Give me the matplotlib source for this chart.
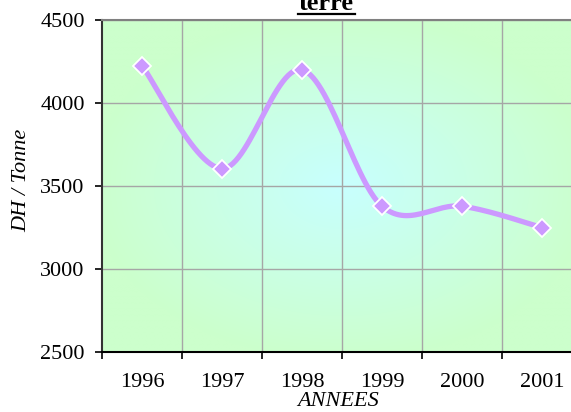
import numpy as np
import matplotlib
matplotlib.use("Agg")
import matplotlib.pyplot as plt
from matplotlib.lines import Line2D

# data
years = ["1996", "1997", "1998", "1999", "2000", "2001"]
prix = [4225, 3605, 4200, 3378, 3378, 3250]

y_ticks = [2500, 3000, 3500, 4000, 4500]


def smooth(xs, ys, n=30):
    # Catmull-Rom curve through the points (like Excel's smoothed line)
    xs = np.asarray(xs, float)
    ys = np.asarray(ys, float)
    px = np.concatenate([[xs[0]], xs, [xs[-1]]])
    py = np.concatenate([[ys[0]], ys, [ys[-1]]])
    outx, outy = [], []
    for i in range(1, len(px) - 2):
        t = np.linspace(0, 1, n)
        for p, out in ((px, outx), (py, outy)):
            p0, p1, p2, p3 = p[i - 1], p[i], p[i + 1], p[i + 2]
            c1 = p1 + (p2 - p0) / 6
            c2 = p2 - (p3 - p1) / 6
            out.extend((1 - t) ** 3 * p1 + 3 * (1 - t) ** 2 * t * c1
                       + 3 * (1 - t) * t ** 2 * c2 + t ** 3 * p2)
    return outx, outy


plt.rcParams['font.family'] = ['Liberation Serif', 'DejaVu Serif']

W, H = 571, 412
fig = plt.figure(figsize=(W / 100, H / 100), dpi=100)
fig.patch.set_facecolor("white")

# plot area runs past the right edge of the picture
left, right, top, bottom = 102, 582, 20, 352
ax = fig.add_axes([left / W, 1 - bottom / H, (right - left) / W, (bottom - top) / H])

x = np.arange(len(years))
ax.set_xlim(-0.5, len(years) - 0.5)
ax.set_ylim(2500, 4500)

# radial gradient background
gx, gy = np.meshgrid(np.linspace(-1, 1, 300), np.linspace(-1, 1, 300))
r = np.clip(np.sqrt(gx ** 2 + gy ** 2) / 1.05, 0, 1)
c_center = np.array([0xC8, 0xFF, 0xFF]) / 255
c_edge = np.array([0xCC, 0xFF, 0xCC]) / 255
img = c_center[None, None, :] * (1 - r[..., None]) + c_edge[None, None, :] * r[..., None]
ax.imshow(img, extent=[-0.5, len(years) - 0.5, 2500, 4500], aspect="auto",
          zorder=0, interpolation="bilinear")

# grid
for b in np.arange(-0.5, len(years), 1.0)[1:]:
    ax.axvline(b, color="#a6a6a6", lw=1.0, zorder=1)
for v in y_ticks[1:]:
    ax.axhline(v, color="#a6a6a6", lw=1.0, zorder=1)

sx, sy = smooth(x, prix)
ax.plot(sx, sy, color="#cc99ff", lw=3.8, solid_capstyle="round", zorder=2)
ax.plot(x, prix, linestyle="none", marker="D", markersize=9,
        markerfacecolor="#cc99ff", markeredgecolor="white", markeredgewidth=1.3,
        zorder=3)

ax.set_yticks(y_ticks)
ax.set_yticklabels([str(v) for v in y_ticks], fontsize=16)
ax.set_xticks(x)
ax.set_xticklabels(years, fontsize=16)
ax.tick_params(axis="x", length=0, pad=15)
ax.set_xticks(np.arange(-0.5, len(years), 1.0), minor=True)
ax.tick_params(axis="x", which="minor", length=5, width=1.2, direction="out")
ax.tick_params(axis="y", length=5, width=1.2, direction="out", pad=7.5)

ax.spines["right"].set_visible(False)
ax.spines["top"].set_color("#808080")
ax.spines["top"].set_linewidth(1.5)
ax.spines["left"].set_color("#333333")
ax.spines["left"].set_linewidth(1.5)
ax.spines["bottom"].set_linewidth(1.5)

fig.text(22 / W, 1 - 180 / H, "DH / Tonne", rotation=90, style="italic",
         fontsize=16, ha="center", va="center")
fig.text(338 / W, 1 - 401 / H, "ANNEES", style="italic", fontsize=16,
         ha="center", va="center")

# title (cut at the top of the picture), bold and underlined
fig.text(326 / W, 1 - 10 / H, "terre", fontsize=19, fontweight="bold",
         ha="center", va="baseline")
fig.add_artist(Line2D([298 / W, 355 / W], [1 - 14 / H, 1 - 14 / H],
                      color="black", lw=1.6, transform=fig.transFigure))

fig.savefig("out.png", dpi=100)
